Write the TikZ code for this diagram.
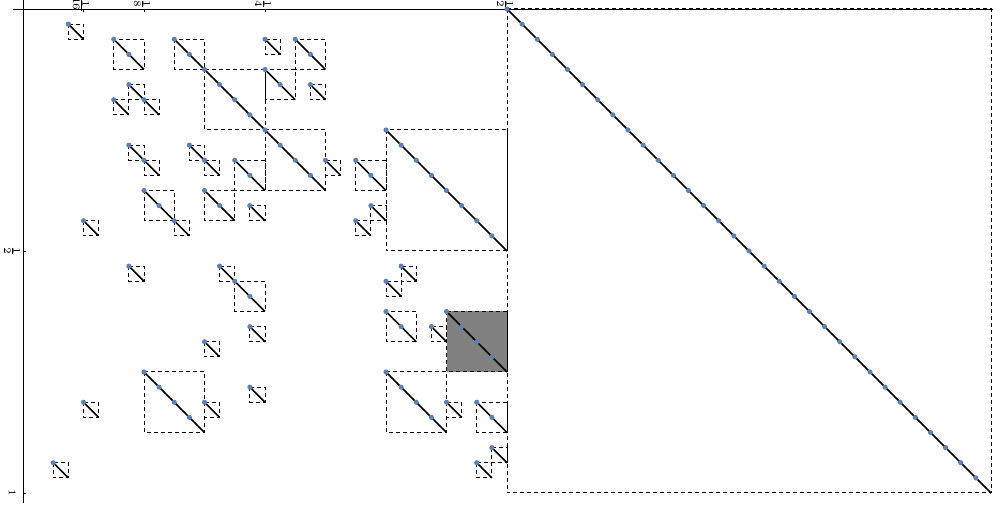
\documentclass[tikz,border=0pt]{standalone}
\definecolor{dotblue}{RGB}{94,129,181}
\definecolor{fillgray}{RGB}{128,128,128}
\begin{document}
\begin{tikzpicture}[x=0.5pt,y=-0.5pt,
  box/.style={draw=black,line width=0.5pt,dash pattern=on 2pt off 1.5pt},
  diag/.style={draw=black,line width=0.8pt},
  axisline/.style={draw=black,line width=0.45pt},
  ticklbl/.style={font=\fontsize{2.6}{3}\selectfont,inner sep=0.3pt}]
\useasboundingbox (0,0) rectangle (993,508);
% axes
\draw[axisline] (13,9) -- (993,9);
\draw[axisline] (23,0) -- (23,503);
\foreach \tx/\tl in {83/{\frac{1}{16}},144/{\frac{1}{8}},265/{\frac{1}{4}},507/{\frac{1}{2}}}{
  \draw[axisline] (\tx,9) -- (\tx,12);
  \node[ticklbl,rotate=-90] (tl\tx) at (\tx-2,4) {$\tl$};
}
\foreach \ty/\tl in {251/{\frac{1}{2}},493/{1}}{
  \draw[axisline] (23,\ty) -- (26,\ty);
  \node[ticklbl,rotate=-90] (ll\ty) at (12,\ty) {$\tl$};
}
\begin{scope}[shift={(23,9)},x=7.5625pt,y=-7.5625pt]
  \fill[fillgray] (28,20) rectangle ++(4,4);
  \def\squares{32/0/32, 24/8/8,
    3/1/1, 6/2/2, 10/2/2, 16/2/1, 18/2/2,
    12/4/4, 16/4/2, 19/5/1, 7/5/1, 6/6/1, 8/6/1,
    16/8/4,
    7/9/1, 8/10/1, 11/9/1, 12/10/1, 14/10/2, 20/10/1, 22/10/2,
    8/12/2, 10/14/1, 12/12/2, 15/13/1, 4/14/1, 23/13/1, 22/14/1,
    7/17/1, 13/17/1, 14/18/2, 25/17/1, 24/18/1,
    24/20/2, 27/21/1, 28/20/4, 15/21/1, 12/22/1,
    8/24/4, 12/26/1, 4/26/1, 15/25/1, 24/24/4, 28/26/1, 30/26/2, 31/29/1, 30/30/1, 2/30/1}
  \foreach \X/\Y/\s in \squares {
    \draw[box] (\X,\Y) rectangle ++(\s,\s);
  }
  \foreach \X/\Y/\s in \squares {
    \draw[diag] (\X,\Y) -- ++(\s,\s);
  }
  \foreach \X/\Y/\s in \squares {
    \foreach \i in {1,...,\s}
      \fill[dotblue] ({\X+\i-1},{\Y+\i-1}) circle[radius=1.3pt];
  }
\end{scope}
\end{tikzpicture}
\end{document}
